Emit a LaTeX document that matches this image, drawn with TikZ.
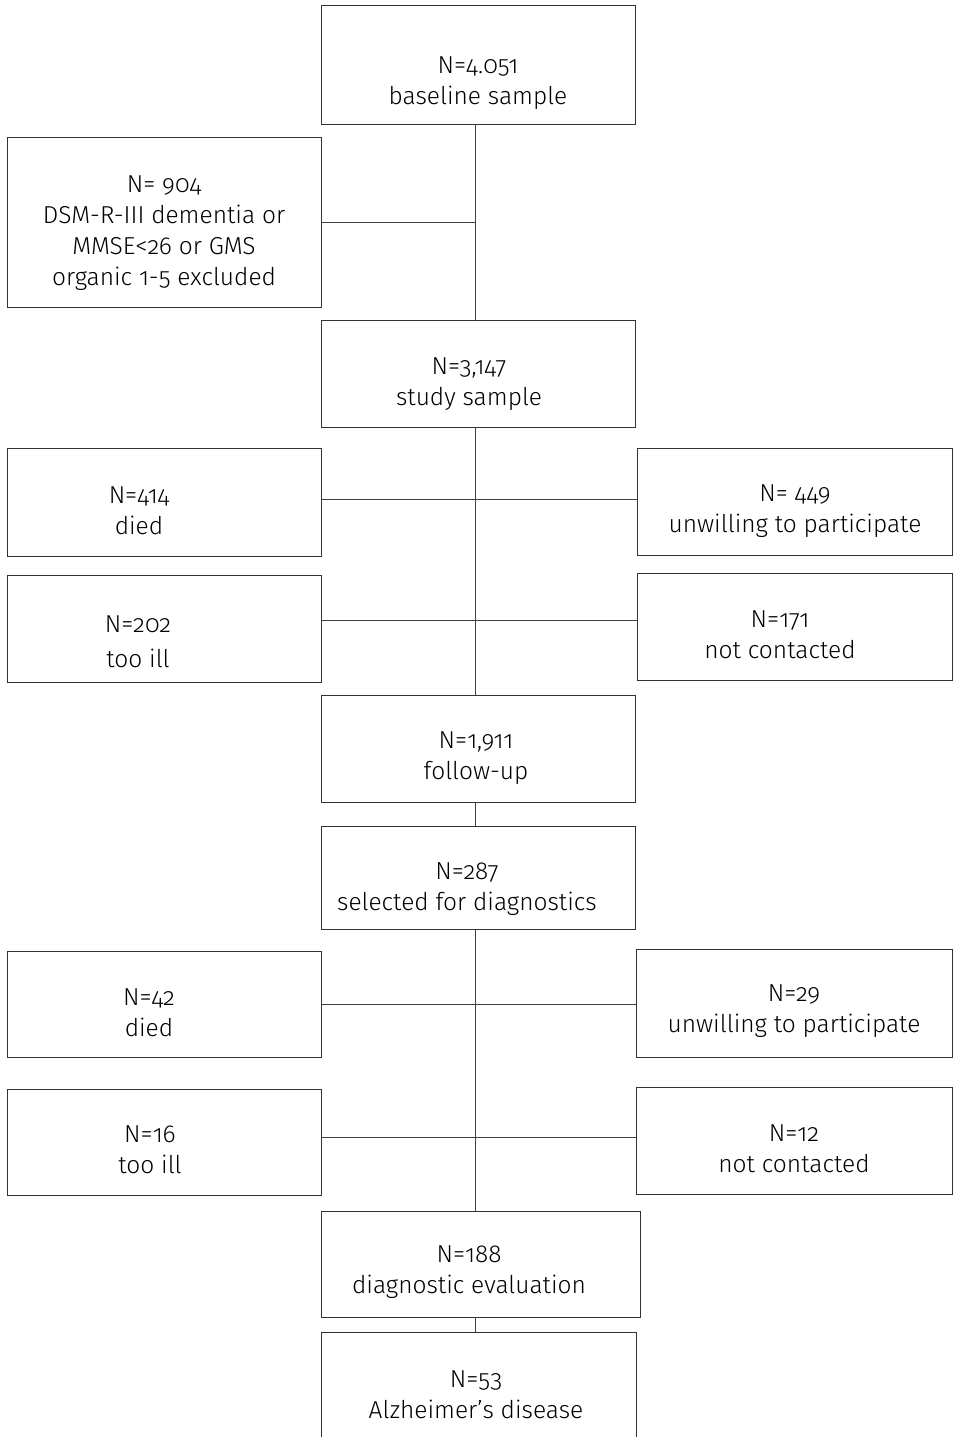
\documentclass[tikz,border=0pt]{standalone}
\usepackage{fontspec}
\setmainfont{Fira Sans}[UprightFont=* Light, Numbers=OldStyle]
\begin{document}
\begin{tikzpicture}[x=1pt,y=-1pt,
  box/.style={draw=black!80, line width=1pt, inner sep=0pt, outer sep=0pt},
  lbl/.style={align=center, inner sep=0pt, yshift=-2pt, font=\fontsize{24.5}{31}\selectfont, text=black},
  link/.style={draw=black!75, line width=1pt}]
\useasboundingbox (0,0) rectangle (954,1437);
% box from its corner coordinates (left, top, right, bottom)
\newcommand{\mkbox}[5]{%
  \pgfmathsetmacro{\cxx}{(#2+#4)/2}\pgfmathsetmacro{\cyy}{(#3+#5)/2}%
  \pgfmathsetmacro{\ww}{#4-#2}\pgfmathsetmacro{\hh}{#5-#3}%
  \node[box, minimum width=\ww pt, minimum height=\hh pt] (#1) at (\cxx,\cyy) {};}
% main column
\mkbox{base}{321}{6}{635}{124}
\mkbox{study}{321}{320}{635}{427}
\mkbox{follow}{321}{695}{635}{802}
\mkbox{sel}{321}{826}{635}{929}
\mkbox{diag}{321}{1211}{640}{1317}
\mkbox{alz}{321}{1332}{636}{1450}
% exclusions
\mkbox{excl}{7}{137}{321}{307}
\mkbox{died}{7}{448}{321}{556}
\mkbox{unw}{637}{448}{952}{555}
\mkbox{ill}{7}{575}{321}{682}
\mkbox{nc}{637}{573}{952}{680}
\mkbox{died2}{7}{951}{321}{1057}
\mkbox{unw2}{636}{949}{952}{1057}
\mkbox{ill2}{7}{1089}{321}{1195}
\mkbox{nc2}{636}{1087}{952}{1194}
% texts
\node[lbl] (tbase) at (478,81) {N=4.051\\baseline sample};
\node[lbl] (texcl) at (164,231) {N= 904\\DSM-R-III dementia or\\MMSE<26 or GMS\\organic 1-5 excluded};
\node[lbl] (tstudy) at (469,382) {N=3,147\\study sample};
\node[lbl] (tdied) at (139,509) {N=414\\died};
\node[lbl] (tunw) at (795,509) {N= 449\\unwilling to participate};
\node[lbl] (till) at (138,640) {N=202\\[4pt]too ill};
\node[lbl] (tnc) at (780,633) {N=171\\not contacted};
\node[lbl] (tfollow) at (476,756) {N=1,911\\follow-up};
\node[lbl] (tsel) at (467,887) {N=287\\selected for diagnostics};
\node[lbl] (tdied2) at (149,1011) {N=42\\died};
\node[lbl] (tunw2) at (794,1009) {N=29\\unwilling to participate};
\node[lbl] (till2) at (150,1148) {N=16\\too ill};
\node[lbl] (tnc2) at (794,1147) {N=12\\not contacted};
\node[lbl] (tdiag) at (469,1270) {N=188\\diagnostic evaluation};
\node[lbl] (talz) at (476,1393) {N=53\\Alzheimer’s disease};
% spine
\coordinate (spine) at (475,0);
\draw[link] (base.south -| spine) -- (study.north -| spine);
\draw[link] (study.south -| spine) -- (follow.north -| spine);
\draw[link] (follow.south -| spine) -- (sel.north -| spine);
\draw[link] (sel.south -| spine) -- (diag.north -| spine);
\draw[link] (diag.south -| spine) -- (alz.north -| spine);
% side branches
\draw[link] (excl.east |- 0,222) -- (spine |- 0,222);
\draw[link] (died.east |- 0,499) -- (unw.west |- 0,499);
\draw[link] (ill.east |- 0,620) -- (nc.west |- 0,620);
\draw[link] (died2.east |- 0,1004) -- (unw2.west |- 0,1004);
\draw[link] (ill2.east |- 0,1137) -- (nc2.west |- 0,1137);
\end{tikzpicture}
\end{document}
